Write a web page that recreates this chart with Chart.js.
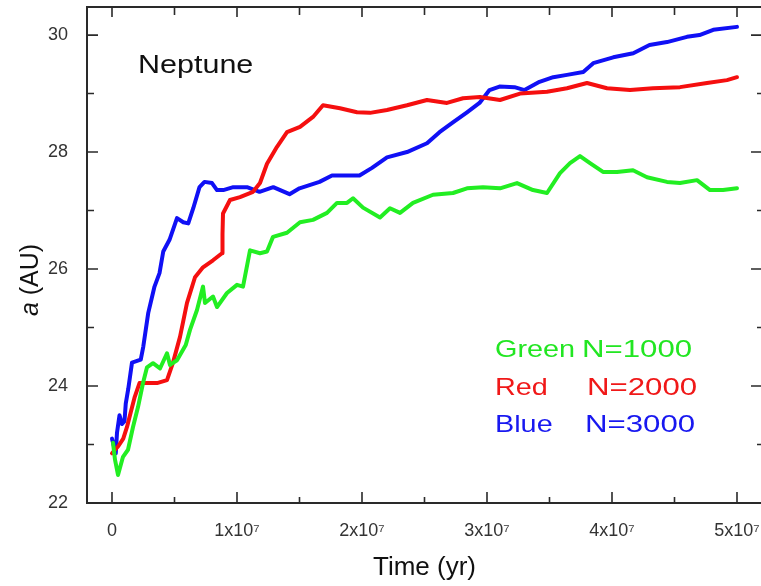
<!DOCTYPE html>
<html><head><meta charset="utf-8">
<script src="https://cdn.jsdelivr.net/npm/chart.js@4.4.0/dist/chart.umd.min.js"></script>
<style>html,body{margin:0;padding:0;overflow:hidden;background:#fff}#wrap{width:790px;height:586px}</style>
</head><body><div id="wrap"><canvas id="c" width="790" height="586"></canvas></div>
<script>
// time in Myr (1 Myr = 1e6 yr), semi-major axis a in AU
const greenTime = [0.08,0.24,0.48,0.88,1.28,1.68,2.08,2.48,2.8,3.28,3.84,4.4,4.64,5.2,5.9,6.24,6.8,7.28,7.44,8.08,8.4,9.2,10.0,10.48,11.04,11.84,12.4,12.88,14.0,15.04,16.08,17.2,18.0,18.8,19.28,20.08,21.44,22.24,23.04,24.08,25.68,27.28,28.4,29.68,31.04,32.4,33.68,34.8,35.84,36.64,37.44,38.24,39.28,40.4,41.68,42.8,44.4,45.44,46.8,47.84,48.88,50.0];
const greenA = [23.03,22.74,22.48,22.79,22.91,23.3,23.64,24.05,24.32,24.39,24.3,24.56,24.36,24.44,24.7,24.96,25.3,25.7,25.42,25.53,25.35,25.59,25.73,25.7,26.32,26.27,26.3,26.55,26.62,26.8,26.84,26.96,27.13,27.13,27.21,27.05,26.88,27.04,26.96,27.13,27.27,27.3,27.38,27.4,27.38,27.47,27.35,27.3,27.64,27.81,27.93,27.81,27.66,27.66,27.69,27.57,27.49,27.47,27.52,27.35,27.35,27.38];

const redTime = [0,0.5,0.9,1.2,1.5,1.8,2.2,2.8,3.6,4.4,4.88,5.44,6.0,6.64,7.28,8.08,8.8,8.84,8.88,9.44,10.24,11.28,11.84,12.4,13.2,14.0,15.04,16.08,16.88,18.24,19.6,20.64,22.0,23.6,25.2,26.8,28.08,29.44,31.04,32.64,34.8,36.4,38.0,39.6,41.44,43.28,45.44,47.6,49.2,50.0];
const redA = [22.85,22.97,23.1,23.3,23.55,23.8,24.05,24.05,24.05,24.1,24.4,24.84,25.42,25.86,26.03,26.15,26.27,26.6,26.95,27.18,27.23,27.32,27.47,27.8,28.09,28.34,28.43,28.6,28.8,28.75,28.68,28.67,28.72,28.8,28.89,28.84,28.92,28.94,28.89,29.0,29.03,29.09,29.18,29.09,29.06,29.09,29.11,29.18,29.23,29.28];

const blueTime = [0,0.3,0.4,0.6,0.8,1.0,1.1,1.3,1.6,2.3,2.5,2.9,3.4,3.8,4.1,4.6,5.2,5.7,6.1,6.5,7.0,7.4,8.0,8.4,8.9,9.7,10.8,11.8,12.9,14.2,15.0,16.6,17.6,19.8,20.8,21.6,22.0,23.6,25.2,26.2,27.3,28.4,29.4,30.2,31.0,32.2,33.0,34.2,35.3,36.4,37.7,38.5,40.1,41.7,43.0,44.4,46.0,47.0,48.1,50.0];
const blueA = [23.1,22.85,23.2,23.5,23.35,23.4,23.7,23.95,24.4,24.45,24.67,25.25,25.7,25.93,26.3,26.5,26.87,26.8,26.78,27.04,27.4,27.49,27.47,27.35,27.35,27.4,27.4,27.32,27.4,27.28,27.38,27.49,27.6,27.6,27.73,27.85,27.91,28.0,28.15,28.34,28.51,28.68,28.84,29.06,29.12,29.11,29.06,29.2,29.28,29.32,29.37,29.52,29.62,29.69,29.83,29.88,29.97,30.0,30.09,30.14];

const xTickValues = [0,10,20,30,40,50];
const xTickLabels = ['0','1x10\u2077','2x10\u2077','3x10\u2077','4x10\u2077','5x10\u2077'];
const xMinorTicks = [5,15,25,35,45];
const yTickValues = [22,24,26,28,30];
const yMinorTicks = [23,25,27,29];
const legendRows = [
  {name:'Green', label:'N=1000', color:'#22e622'},
  {name:'Red', label:'N=2000', color:'#f01818'},
  {name:'Blue', label:'N=3000', color:'#1818f0'}
];

const pts = (t,a) => t.map((v,i)=>({x:v,y:a[i]}));
const FONT = "'Liberation Sans', Arial, sans-serif";

function sText(ctx, text, x, y, sx){
  ctx.save(); ctx.translate(x,y); ctx.scale(sx,1); ctx.fillText(text,0,0); ctx.restore();
}

const framePlugin = {
  id:'frame',
  afterDatasetsDraw(chart){
    const {ctx, chartArea:a, scales:{x,y}} = chart;
    ctx.save();
    ctx.strokeStyle = '#2a2a2a';
    ctx.lineWidth = 2;
    ctx.strokeRect(a.left, a.top, a.right-a.left, a.bottom-a.top);
    ctx.lineWidth = 1.6;
    ctx.beginPath();
    xTickValues.forEach(v=>{const p=x.getPixelForValue(v);
      ctx.moveTo(p,a.bottom); ctx.lineTo(p,a.bottom-11);
      ctx.moveTo(p,a.top); ctx.lineTo(p,a.top+10);});
    xMinorTicks.forEach(v=>{const p=x.getPixelForValue(v);
      ctx.moveTo(p,a.bottom); ctx.lineTo(p,a.bottom-6);
      ctx.moveTo(p,a.top); ctx.lineTo(p,a.top+8);});
    yTickValues.forEach(v=>{const p=y.getPixelForValue(v);
      ctx.moveTo(a.left,p); ctx.lineTo(a.left+11,p);
      ctx.moveTo(a.right,p); ctx.lineTo(a.right-11,p);});
    yMinorTicks.forEach(v=>{const p=y.getPixelForValue(v);
      ctx.moveTo(a.left,p); ctx.lineTo(a.left+7,p);
      ctx.moveTo(a.right,p); ctx.lineTo(a.right-5,p);});
    ctx.stroke();

    // annotation "Neptune"
    ctx.fillStyle = '#111';
    ctx.textBaseline = 'alphabetic';
    ctx.textAlign = 'left';
    ctx.font = '25px ' + FONT;
    sText(ctx, 'Neptune', 138, 73, 1.22);

    // legend text
    const rowsY = [357, 395, 432];
    const labX = [582, 587, 585];
    legendRows.forEach((r,i)=>{
      ctx.fillStyle = r.color;
      ctx.font = '24px ' + FONT;
      sText(ctx, r.name, 495, rowsY[i], 1.2);
      sText(ctx, r.label, labX[i], rowsY[i], 1.3);
    });

    // y axis title: italic a + (AU)
    ctx.save();
    ctx.translate(38, 280);
    ctx.rotate(-Math.PI/2);
    ctx.fillStyle = '#111';
    const f1 = 'italic 25px ' + FONT, f2 = '25px ' + FONT;
    ctx.font = f1; const w1 = ctx.measureText('a').width;
    ctx.font = f2; const w2 = ctx.measureText(' (AU)').width;
    const x0 = -(w1+w2)/2;
    ctx.font = f1; ctx.fillText('a', x0, 0);
    ctx.font = f2; ctx.fillText(' (AU)', x0+w1, 0);
    ctx.restore();
    ctx.restore();
  }
};

new Chart(document.getElementById('c'), {
  type:'line',
  data:{datasets:[
    {label:'Green N=1000', data:pts(greenTime,greenA), borderColor:'#22ee22', borderWidth:4},
    {label:'Red N=2000', data:pts(redTime,redA), borderColor:'#f50f0f', borderWidth:4},
    {label:'Blue N=3000', data:pts(blueTime,blueA), borderColor:'#1010f5', borderWidth:4}
  ]},
  options:{
    responsive:false, animation:false, devicePixelRatio:1,
    parsing:true,
    elements:{point:{radius:0}, line:{tension:0, borderJoinStyle:'round', borderCapStyle:'round'}},
    layout:{padding:{top:7, right:28, left:0, bottom:0}},
    plugins:{legend:{display:false}, tooltip:{enabled:false}},
    scales:{
      x:{type:'linear', min:-2, max:52,
        grid:{display:false}, border:{display:false},
        afterBuildTicks:s=>{s.ticks = xTickValues.map(v=>({value:v}));},
        ticks:{padding:9, color:'#333', font:{family:FONT, size:18}, maxRotation:0, autoSkip:false,
          callback:(v)=>{const i=xTickValues.indexOf(v); return i>=0?xTickLabels[i]:'';}},
        title:{display:true, text:'Time (yr)', color:'#111', font:{family:FONT, size:26}, padding:{top:0,bottom:3}},
        afterFit:s=>{s.height=83; s.paddingLeft=0; s.paddingRight=0;}
      },
      y:{type:'linear', min:22, max:30.48,
        grid:{display:false}, border:{display:false},
        afterBuildTicks:s=>{s.ticks = yTickValues.map(v=>({value:v}));},
        ticks:{padding:11, color:'#333', font:{family:FONT, size:18}},
        afterFit:s=>{s.width=87; s.paddingTop=0; s.paddingBottom=0;}
      }
    }
  },
  plugins:[framePlugin]
});
</script></body></html>
